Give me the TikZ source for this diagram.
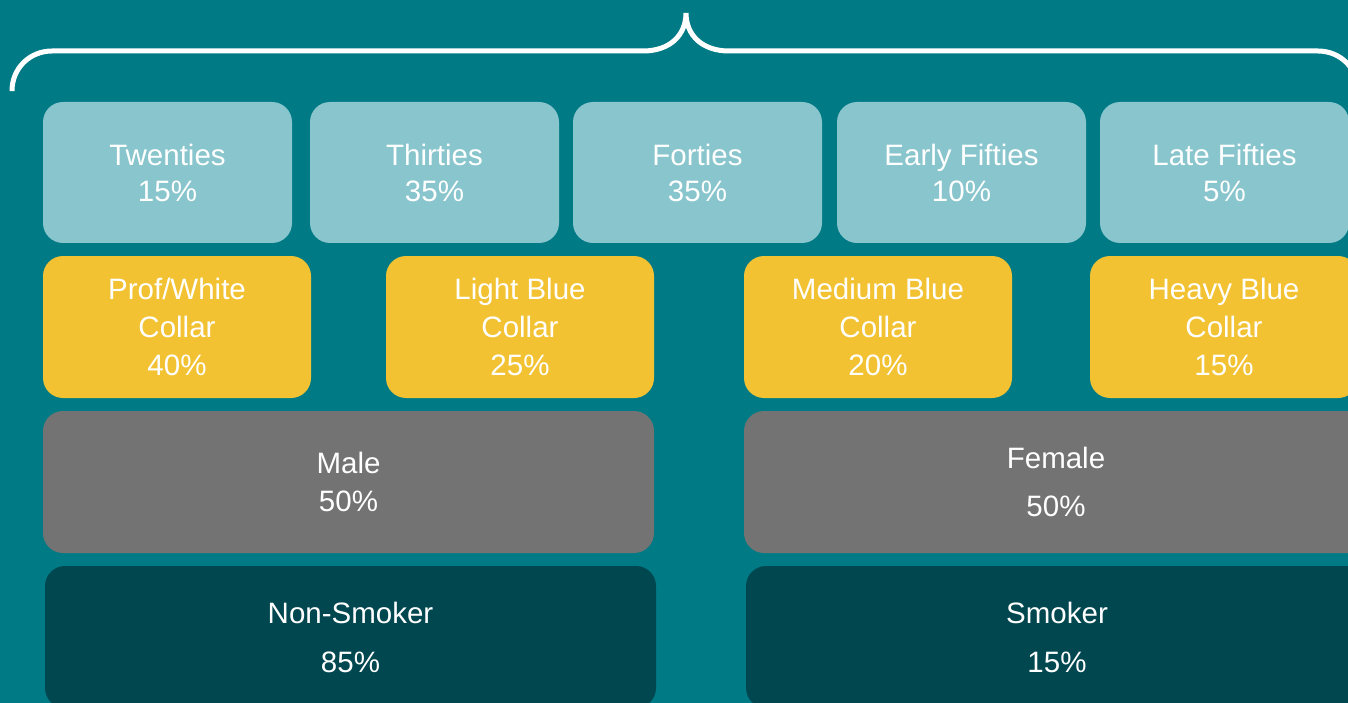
\documentclass[tikz,border=0pt]{standalone}
\usepackage{fontspec}
\setmainfont{Liberation Sans}
\usepackage{tikz}
\usetikzlibrary{positioning}

\definecolor{bgteal}{HTML}{007A85}
\definecolor{ageteal}{HTML}{88C5CC}
\definecolor{jobyellow}{HTML}{F2C232}
\definecolor{sexgray}{HTML}{737373}
\definecolor{smokedark}{HTML}{00474F}

\begin{document}
\begin{tikzpicture}[x=1pt, y=-1pt,
        box/.style={rounded corners=20pt, inner sep=0pt, text=white, align=center},
        agebox/.style={box, fill=ageteal, minimum width=249pt, minimum height=141pt,
            font=\fontsize{29.5}{36}\selectfont},
        jobbox/.style={box, fill=jobyellow, minimum width=268pt, minimum height=142pt,
            font=\fontsize{29.5}{38}\selectfont},
        sexbox/.style={box, fill=sexgray, minimum height=142pt,
            font=\fontsize{29.5}{38}\selectfont},
        smokebox/.style={box, fill=smokedark, minimum height=142pt,
            font=\fontsize{29.5}{49}\selectfont}]
    \useasboundingbox (0,0) rectangle (1348,703);
    \clip (0,0) rectangle (1348,703);
    \fill[bgteal] (0,0) rectangle (1348,703);

    % brace over the age groups
    \draw[white, line width=5pt, line cap=round]
        (12,90) -- (12,91) .. controls (12,68) and (30,51) .. (52,51) -- (643,51)
        .. controls (670,51) and (686,35) .. (686,13)
        .. controls (686,35) and (702,51) .. (729,51) -- (1318,51)
        .. controls (1340,51) and (1358,68) .. (1358,91);

    % ages
    \node[agebox] (twenties) at (167.5,172.5) {Twenties\\15\%};
    \node[agebox] (thirties) at (434.5,172.5) {Thirties\\35\%};
    \node[agebox] (forties) at (697.5,172.5) {Forties\\35\%};
    \node[agebox] (earlyfifties) at (961.5,172.5) {Early Fifties\\10\%};
    \node[agebox] (latefifties) at (1224.5,172.5) {Late Fifties\\5\%};

    % occupations
    \node[jobbox] (profwhite) at (177,327) {Prof/White\\Collar\\40\%};
    \node[jobbox] (lightblue) at (520,327) {Light Blue\\Collar\\25\%};
    \node[jobbox] (mediumblue) at (878,327) {Medium Blue\\Collar\\20\%};
    \node[jobbox] (heavyblue) at (1224,327) {Heavy Blue\\Collar\\15\%};

    % gender
    \node[sexbox, minimum width=611pt] (male) at (348.5,482) {Male\\50\%};
    \node[sexbox, minimum width=624pt, font=\fontsize{29.5}{48}\selectfont] (female) at (1056,482) {Female\\50\%};

    % smoking
    \node[smokebox, minimum width=611pt] (nonsmoker) at (350.5,637) {Non-Smoker\\85\%};
    \node[smokebox, minimum width=622pt] (smoker) at (1057,637) {Smoker\\15\%};
\end{tikzpicture}
\end{document}
